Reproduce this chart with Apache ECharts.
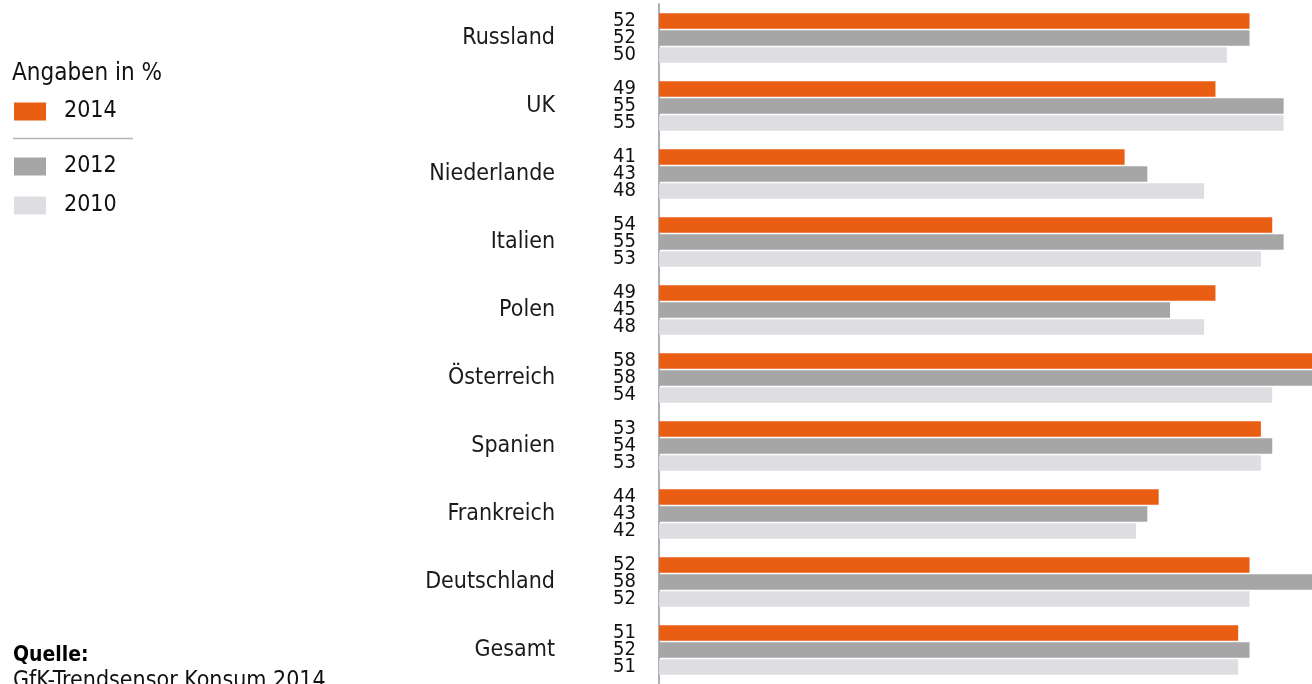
<!DOCTYPE html>
<html>
<head>
<meta charset="utf-8">
<script src="https://cdn.jsdelivr.net/npm/echarts@6/dist/echarts.min.js"></script>
<style>
  html, body { margin: 0; padding: 0; background: #ffffff; }
  #chart { width: 1312px; height: 684px; }
</style>
</head>
<body>
<div id="chart"></div>
<script>
// Countries, top to bottom
const countries = ['Russland', 'UK', 'Niederlande', 'Italien', 'Polen', 'Österreich', 'Spanien', 'Frankreich', 'Deutschland', 'Gesamt'];
// Survey years (one bar per year and country)
const years = ['2014', '2012', '2010'];
// Shares in percent
const values2014 = [52, 49, 41, 54, 49, 58, 53, 44, 52, 51];
const values2012 = [52, 55, 43, 55, 45, 58, 54, 43, 58, 52];
const values2010 = [50, 55, 48, 53, 48, 54, 53, 42, 52, 51];
// Texts
const unitNote = 'Angaben in %';
const sourceTitle = 'Quelle:';
const sourceText = 'GfK-Trendsensor Konsum 2014';

const FONT = '"DejaVu Sans Condensed", "DejaVu Sans", sans-serif';
const colors = ['#e95e12', '#a6a6a6', '#dedde2'];
const seriesValues = [values2014, values2012, values2010];

const chart = echarts.init(document.getElementById('chart'), null, { renderer: 'canvas' });

const series = years.map((year, i) => ({
  name: year,
  type: 'bar',
  data: seriesValues[i],
  barWidth: 15.5,
  barGap: '10%',
  itemStyle: { color: colors[i] },
  label: {
    show: true,
    position: 'left',
    distance: 23,
    color: '#111111',
    fontFamily: FONT,
    fontSize: 20,
    formatter: p => String(p.value)
  },
  emphasis: { disabled: true },
  animation: false
}));

const legendBase = {
  left: 9,
  icon: 'rect',
  itemWidth: 32,
  itemHeight: 18,
  selectedMode: false,
  textStyle: {
    fontFamily: FONT,
    fontSize: 23,
    color: '#111111',
    padding: [0, 0, 0, 13]
  }
};

chart.setOption({
  backgroundColor: '#ffffff',
  animation: false,
  color: colors,
  grid: { left: 659, right: 0, top: 4, height: 684, containLabel: false },
  xAxis: {
    type: 'value',
    min: 0,
    max: 57.5,
    show: false
  },
  yAxis: {
    type: 'category',
    data: countries,
    inverse: true,
    offset: 1,
    axisLine: { show: true, lineStyle: { color: '#a9b1ba', width: 2 } },
    axisTick: { show: false },
    splitLine: { show: false },
    axisLabel: {
      margin: 103,
      fontFamily: FONT,
      fontSize: 23,
      color: '#1a1a1a'
    }
  },
  legend: [
    Object.assign({}, legendBase, { data: [years[0]], top: 95 }),
    Object.assign({}, legendBase, { data: [years[1], years[2]], top: 150, orient: 'vertical', itemGap: 16 })
  ],
  graphic: [
    {
      type: 'text', left: 12, top: 62,
      style: { text: unitNote, fontFamily: FONT, fontSize: 24, fill: '#111111' }
    },
    {
      type: 'line',
      shape: { x1: 13, y1: 138.5, x2: 133, y2: 138.5 },
      style: { stroke: '#b5b5b5', lineWidth: 1.5 }
    },
    {
      type: 'text', left: 13, top: 645,
      style: { text: sourceTitle, fontFamily: FONT, fontSize: 21, fontWeight: 'bold', fill: '#000000' }
    },
    {
      type: 'text', left: 13, top: 670,
      style: { text: sourceText, fontFamily: FONT, fontSize: 23, fill: '#111111' }
    }
  ],
  series: series
});
</script>
</body>
</html>
